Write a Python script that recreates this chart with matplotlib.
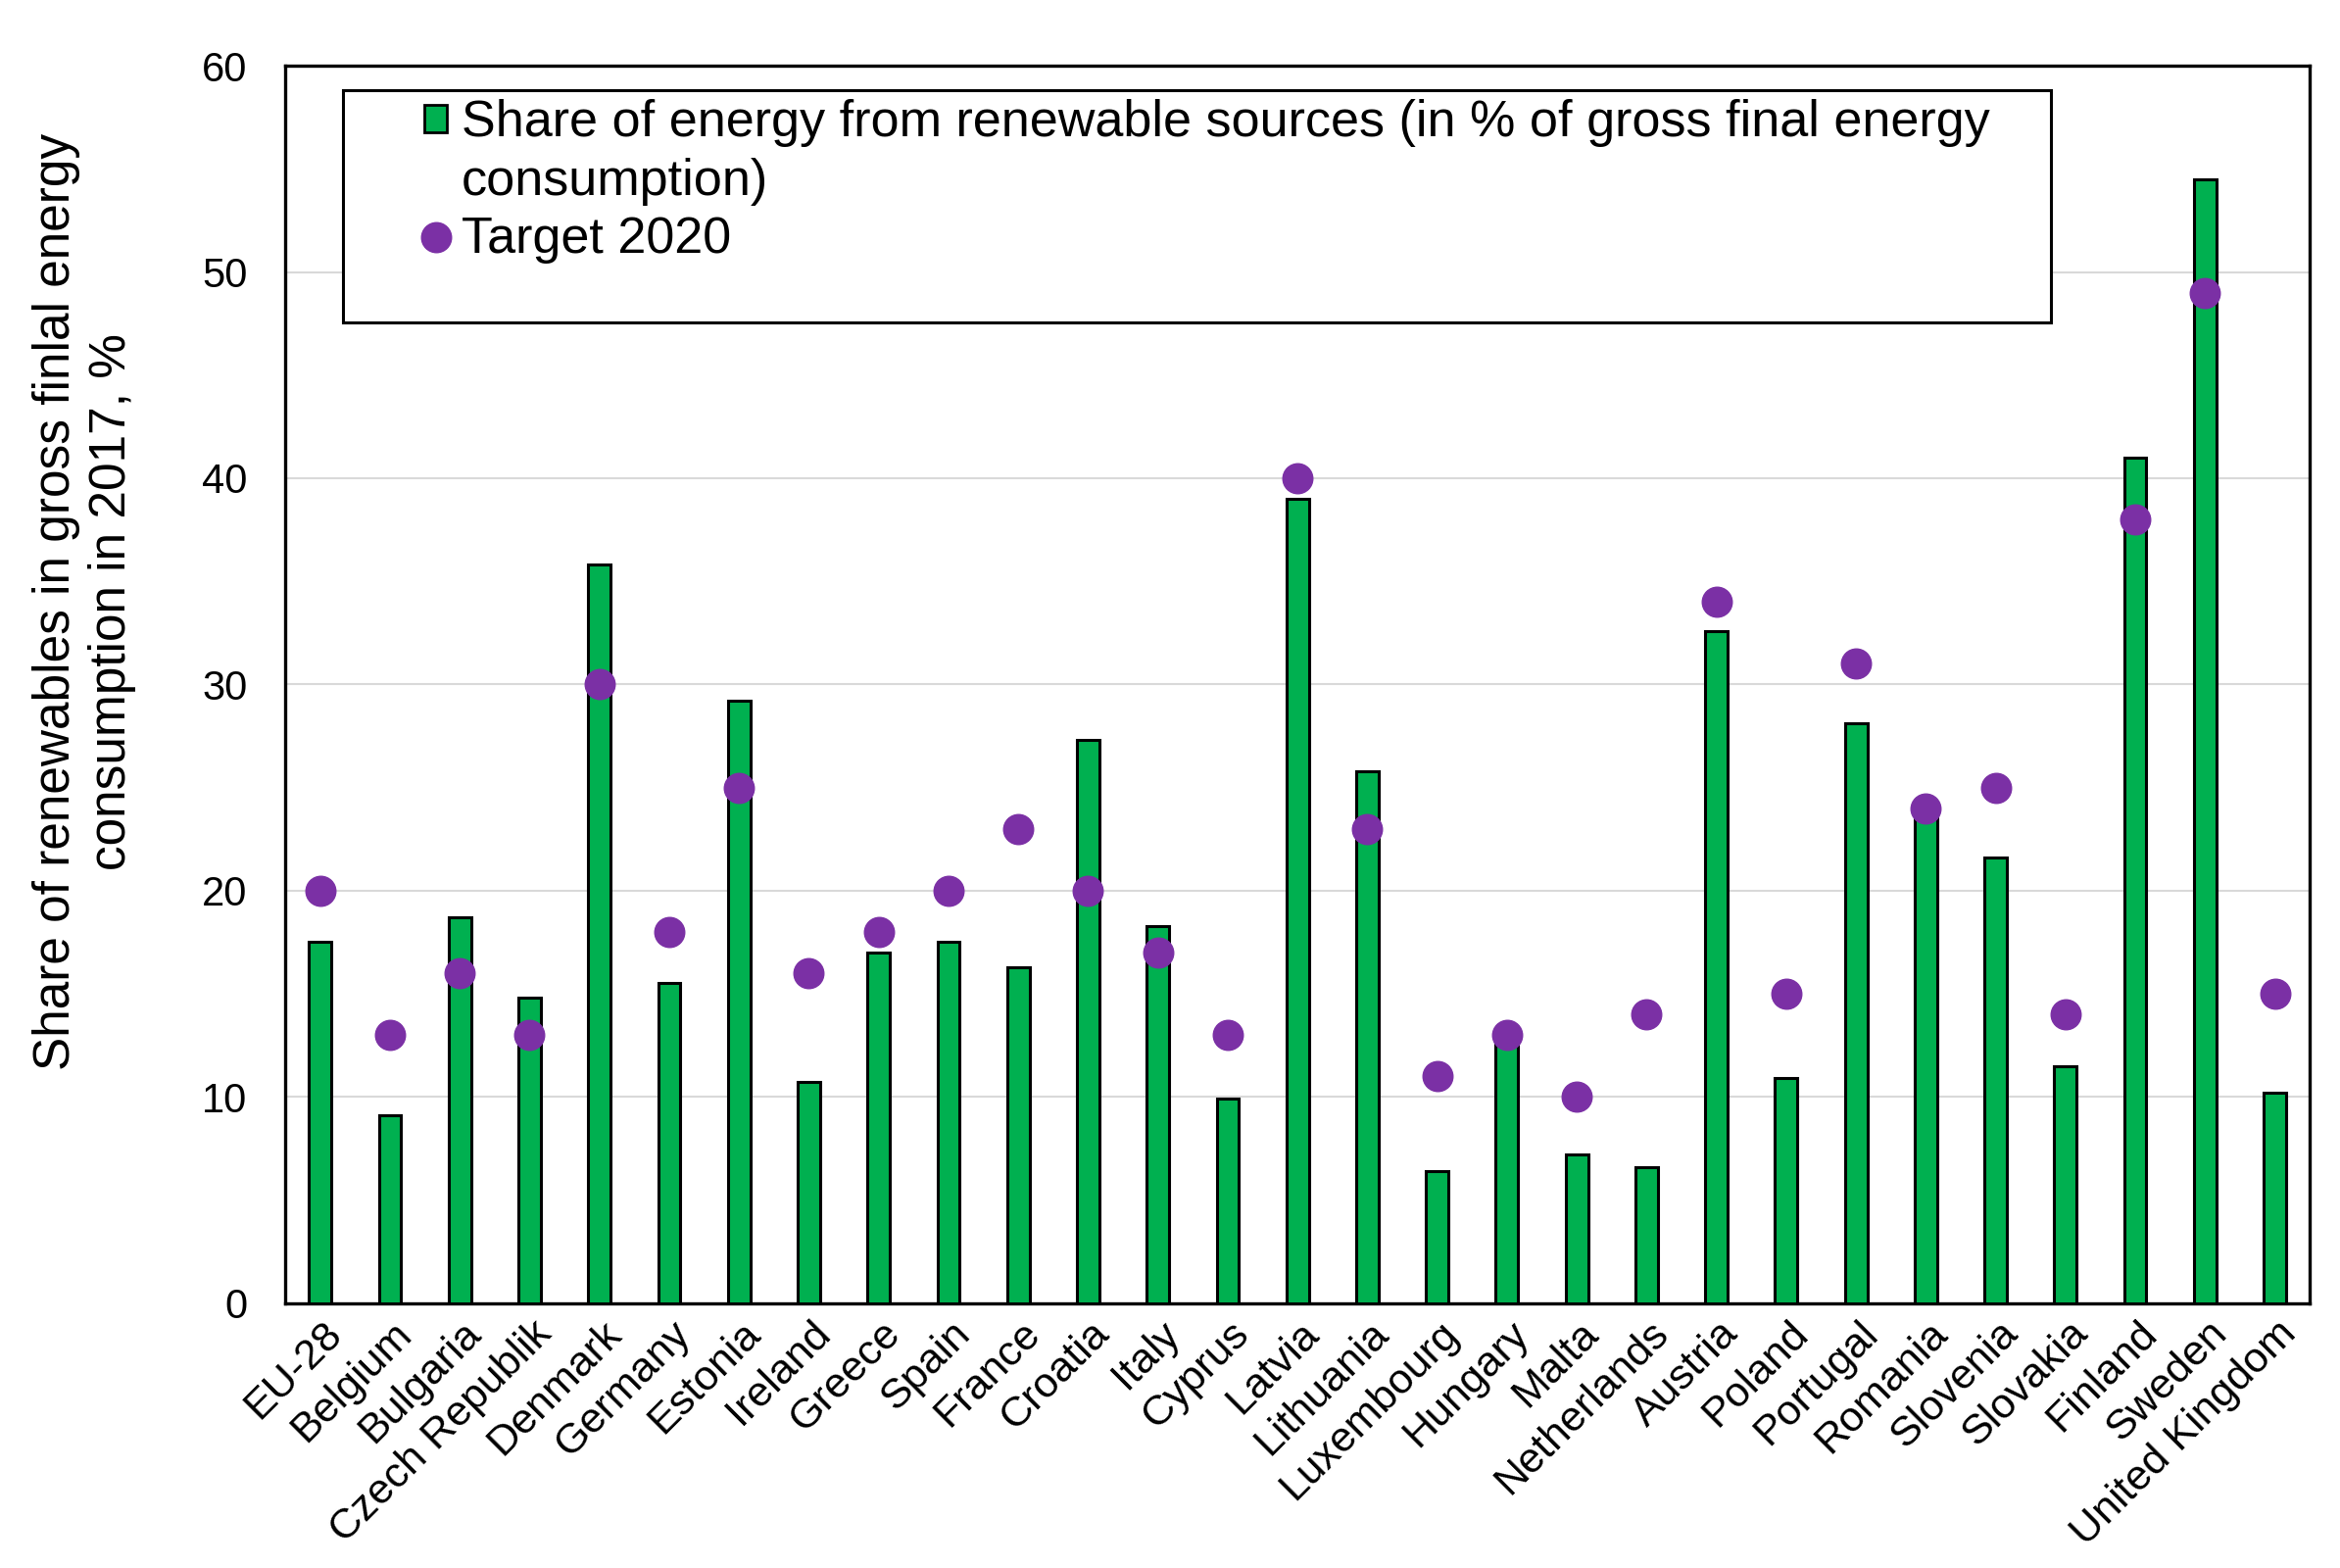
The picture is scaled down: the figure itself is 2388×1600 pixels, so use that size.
import matplotlib
matplotlib.use("Agg")
import matplotlib.pyplot as plt
from matplotlib.patches import Patch, Rectangle
from matplotlib.lines import Line2D
import matplotlib.transforms as mtransforms

plt.rcParams['font.family'] = ['Liberation Sans', 'DejaVu Sans']

countries = ["EU-28", "Belgium", "Bulgaria", "Czech Republik", "Denmark", "Germany",
             "Estonia", "Ireland", "Greece", "Spain", "France", "Croatia", "Italy",
             "Cyprus", "Latvia", "Lithuania", "Luxembourg", "Hungary", "Malta",
             "Netherlands", "Austria", "Poland", "Portugal", "Romania", "Slovenia",
             "Slovakia", "Finland", "Sweden", "United Kingdom"]
share_2017 = [17.5, 9.1, 18.7, 14.8, 35.8, 15.5, 29.2, 10.7, 17.0, 17.5, 16.3, 27.3,
              18.3, 9.9, 39.0, 25.8, 6.4, 12.8, 7.2, 6.6, 32.6, 10.9, 28.1, 23.9,
              21.6, 11.5, 41.0, 54.5, 10.2]
target_2020 = [20, 13, 16, 13, 30, 18, 25, 16, 18, 20, 23, 20, 17, 13, 40, 23, 11,
               13, 10, 14, 34, 15, 31, 24, 25, 14, 38, 49, 15]
yticks = [0, 10, 20, 30, 40, 50, 60]

GREEN = "#00B050"
PURPLE = "#7B30A5"

fig = plt.figure(figsize=(23.88, 16), dpi=100)
ax = fig.add_axes([0.1219, 0.169, 0.8652, 0.789])

x = list(range(len(countries)))
ax.bar(x, share_2017, width=0.32, color=GREEN, edgecolor="black", linewidth=2.2,
       zorder=3, label="Share of energy from renewable sources")
ax.plot(x, target_2020, linestyle="none", marker="o", markersize=22,
        color=PURPLE, markeredgecolor=PURPLE, zorder=4, label="Target 2020")

ax.set_xlim(-0.5, len(countries) - 0.5)
ax.set_ylim(0, 60)
ax.set_yticks(yticks)
ax.set_yticklabels([str(v) for v in yticks], fontsize=30)
ax.yaxis.grid(True, color="#D9D9D9", linewidth=1.5, zorder=0)
ax.set_axisbelow(True)
ax.tick_params(axis="both", length=0)
ax.tick_params(axis="y", pad=28)
ax.tick_params(axis="x", pad=18)

ax.set_xticks(x)
ax.set_xticklabels(countries, fontsize=31, rotation=45, ha="right",
                   va="center", rotation_mode="anchor")
offset = mtransforms.ScaledTranslation(16 / 100, 0, fig.dpi_scale_trans)
for lab in ax.get_xticklabels():
    lab.set_transform(lab.get_transform() + offset)

for s in ax.spines.values():
    s.set_linewidth(2.4)
    s.set_color("black")

ax.set_ylabel("Share of renewables in gross finlal energy\nconsumption in 2017, %",
              fontsize=37, va="center", ha="center", linespacing=1.2)
ax.yaxis.set_label_coords(-0.0992, 0.567)

# legend frame
frame = Rectangle((0.0286, 0.7926), 0.872 - 0.0286, 0.980 - 0.7926,
                  transform=ax.transAxes, facecolor="white", edgecolor="black",
                  linewidth=2.2, zorder=5)
ax.add_patch(frame)

handles = [Patch(facecolor=GREEN, edgecolor="black", linewidth=2.0),
           Patch(facecolor="none", edgecolor="none"),
           Line2D([], [], linestyle="none", marker="o", markersize=22,
                  color=PURPLE)]
labels = ["Share of energy from renewable sources (in % of gross final energy",
          "consumption)",
          "Target 2020"]
leg = ax.legend(handles, labels, loc="upper left", bbox_to_anchor=(0.0687, 0.973),
                frameon=False, fontsize=37.5, handlelength=0.45, handleheight=0.45,
                handletextpad=0.28, labelspacing=0.2, borderpad=0,
                borderaxespad=0)
leg.set_zorder(6)

fig.savefig("out.png", dpi=100)
